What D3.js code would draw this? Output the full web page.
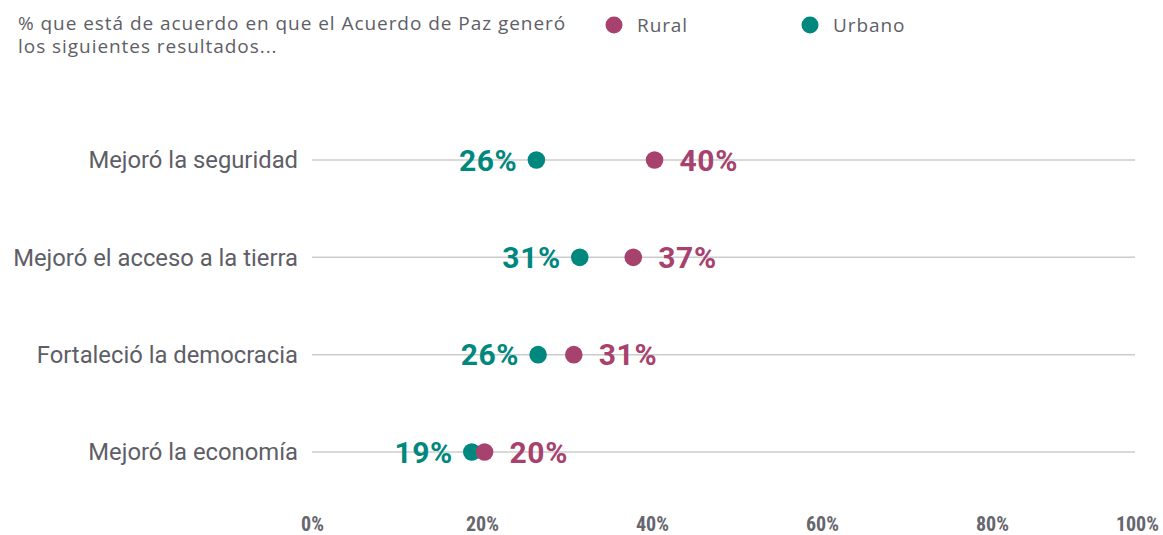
<!DOCTYPE html>
<html>
<head>
<meta charset="utf-8">
<script src="https://cdn.jsdelivr.net/npm/d3@7"></script>
<style>
  body { margin: 0; background: #fff; }
  svg { display: block; }
</style>
</head>
<body>
<div id="chart"></div>
<script>
// data
var categories = ["Mejoró la seguridad", "Mejoró el acceso a la tierra", "Fortaleció la democracia", "Mejoró la economía"];
var rural = [40.3, 37.8, 30.8, 20.3];
var urbano = [26.4, 31.5, 26.6, 18.8];
var ruralLabels = ["40%", "37%", "31%", "20%"];
var urbanoLabels = ["26%", "31%", "26%", "19%"];
var ticks = [0, 20, 40, 60, 80, 100];

var width = 1163, height = 535;
var colRural = "#a7426f", colUrbano = "#00877e";
var grey = "#5e5e66";

var svg = d3.select("#chart").append("svg")
    .attr("width", width)
    .attr("height", height);

var x = d3.scaleLinear().domain([0, 100]).range([312, 1162]);
var y = d3.scalePoint().domain(categories).range([160, 452]);

// title
var title = svg.append("text")
    .attr("x", 18)
    .attr("y", 30)
    .style("font-family", "'Open Sans', sans-serif")
    .style("font-size", "19px")
    .style("letter-spacing", "0.95px")
    .attr("fill", grey);
title.append("tspan").attr("x", 18).attr("dy", 0).text("% que está de acuerdo en que el Acuerdo de Paz generó");
title.append("tspan").attr("x", 18).attr("dy", 23).text("los siguientes resultados...");

// legend
var legend = [{name: "Rural", color: colRural, x: 614}, {name: "Urbano", color: colUrbano, x: 810}];
var lg = svg.selectAll(".legend").data(legend).enter().append("g")
    .attr("class", "legend")
    .attr("transform", function (d) { return "translate(" + d.x + ",25)"; });
lg.append("circle").attr("r", 8.5).attr("fill", function (d) { return d.color; });
lg.append("text")
    .attr("x", 23)
    .attr("y", 7)
    .style("font-family", "'Open Sans', sans-serif")
    .style("font-size", "19px")
    .style("letter-spacing", "0.9px")
    .attr("fill", grey)
    .text(function (d) { return d.name; });

// grid lines per row
svg.selectAll(".row-line").data(categories).enter().append("line")
    .attr("class", "row-line")
    .attr("x1", x(0))
    .attr("x2", 1135)
    .attr("y1", function (d) { return y(d); })
    .attr("y2", function (d) { return y(d); })
    .attr("stroke", "#cccccc")
    .attr("stroke-width", 1.5);

// category labels
svg.selectAll(".cat").data(categories).enter().append("text")
    .attr("class", "cat")
    .attr("x", 298)
    .attr("y", function (d) { return y(d); })
    .attr("dy", "0.35em")
    .attr("text-anchor", "end")
    .style("font-family", "Roboto, sans-serif")
    .style("font-size", "23.8px")
    .attr("fill", grey)
    .text(function (d) { return d; });

// x axis labels
var axis = d3.axisBottom(x).tickValues(ticks).tickSize(0).tickFormat(function (d) { return d + "%"; });
var ax = svg.append("g").attr("transform", "translate(0,513)").call(axis);
ax.select(".domain").remove();
ax.selectAll("text")
    .attr("dy", 0)
    .attr("y", 18)
    .attr("fill", "#66666e")
    .style("font-family", "'Roboto Condensed', 'Liberation Sans Narrow', 'DejaVu Sans Condensed', sans-serif")
    .style("font-stretch", "condensed")
    .style("font-weight", "bold")
    .style("font-size", "20px");
ax.selectAll(".tick").filter(function (d) { return d === 100; })
    .attr("transform", "translate(1159,0)")
    .select("text").attr("text-anchor", "end");

// dots + value labels
var rows = categories.map(function (c, i) {
    return {cat: c, rural: rural[i], urbano: urbano[i], rl: ruralLabels[i], ul: urbanoLabels[i]};
});

var g = svg.selectAll(".row").data(rows).enter().append("g").attr("class", "row");

g.append("circle")
    .attr("cx", function (d) { return x(d.urbano); })
    .attr("cy", function (d) { return y(d.cat); })
    .attr("r", 8.8)
    .attr("fill", colUrbano);

g.append("circle")
    .attr("cx", function (d) { return x(d.rural); })
    .attr("cy", function (d) { return y(d.cat); })
    .attr("r", 8.8)
    .attr("fill", colRural);

var valStyle = function (sel) {
    sel.style("font-family", "Roboto, sans-serif")
        .style("font-weight", "bold")
        .style("font-size", "30px")
        .style("letter-spacing", "0.6px")
        .attr("dy", "0.36em");
};

g.append("text")
    .attr("x", function (d) { return x(d.urbano) - 19; })
    .attr("y", function (d) { return y(d.cat); })
    .attr("text-anchor", "end")
    .attr("fill", colUrbano)
    .call(valStyle)
    .text(function (d) { return d.ul; });

g.append("text")
    .attr("x", function (d) { return x(d.rural) + 25; })
    .attr("y", function (d) { return y(d.cat); })
    .attr("fill", colRural)
    .call(valStyle)
    .text(function (d) { return d.rl; });
</script>
</body>
</html>
